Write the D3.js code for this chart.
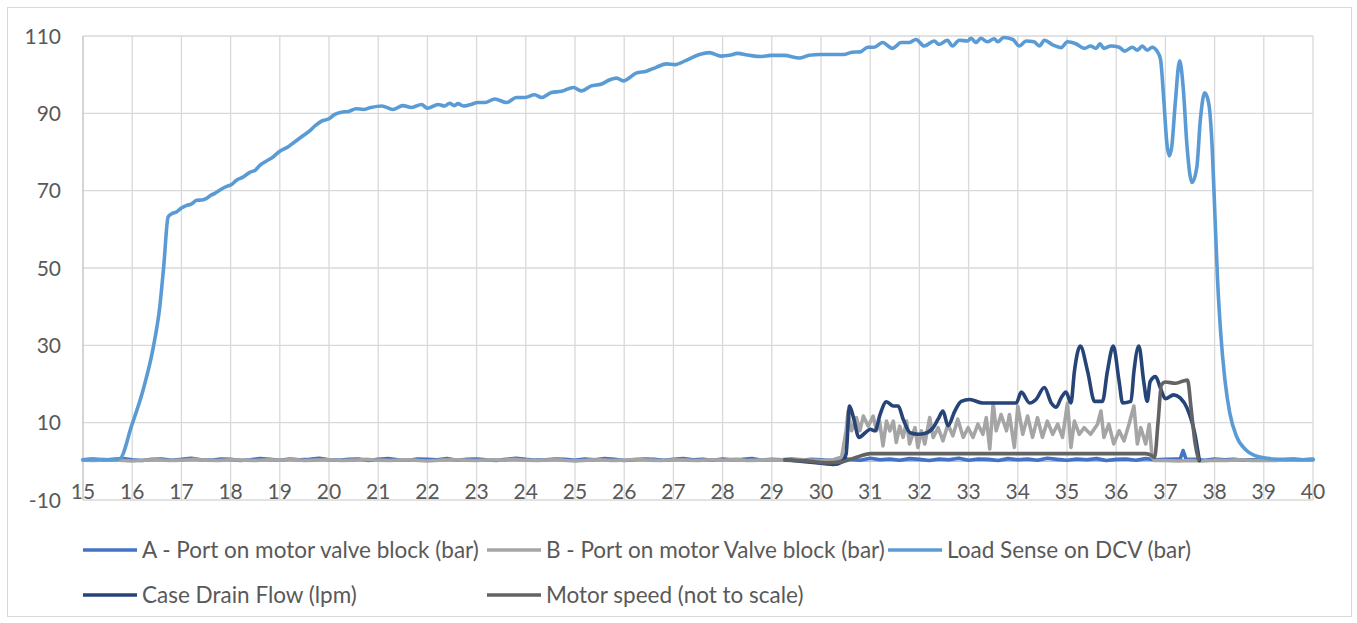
<!DOCTYPE html>
<html>
<head>
<meta charset="utf-8">
<script src="https://cdn.jsdelivr.net/npm/d3@7"></script>
<style>
  body { margin: 0; background: #fff; }
  svg text { font-family: Lato, "Open Sans", sans-serif; fill: #595959; }
</style>
</head>
<body>
<svg id="chart" width="1357" height="623"></svg>
<script>
// axis ticks
const xTicks = [15,16,17,18,19,20,21,22,23,24,25,26,27,28,29,30,31,32,33,34,35,36,37,38,39,40]
const yTicks = [-10,10,30,50,70,90,110]

// series, [time, value]
const aPort = [[15,0.4],[15.2,0.6],[15.4,0.3],[15.6,0.5],[15.8,0.7],[16,0.4],[16.2,0.2],[16.4,0.5],[16.6,0.6],[16.8,0.3],
  [17,0.5],[17.2,0.8],[17.4,0.4],[17.6,0.3],[17.8,0.6],[18,0.5],[18.2,0.2],[18.4,0.4],[18.6,0.7],[18.8,0.5],
  [19,0.3],[19.2,0.6],[19.4,0.4],[19.6,0.5],[19.8,0.8],[20,0.4],[20.2,0.3],[20.4,0.5],[20.6,0.6],[20.8,0.2],
  [21,0.5],[21.2,0.7],[21.4,0.4],[21.6,0.3],[21.8,0.6],[22,0.5],[22.2,0.4],[22.4,0.7],[22.6,0.3],[22.8,0.5],
  [23,0.6],[23.2,0.4],[23.4,0.2],[23.6,0.5],[23.8,0.8],[24,0.5],[24.2,0.3],[24.4,0.4],[24.6,0.6],[24.8,0.5],
  [25,0.3],[25.2,0.6],[25.4,0.4],[25.6,0.7],[25.8,0.5],[26,0.2],[26.2,0.4],[26.4,0.6],[26.6,0.5],[26.8,0.3],
  [27,0.5],[27.2,0.7],[27.4,0.4],[27.6,0.5],[27.8,0.3],[28,0.6],[28.2,0.4],[28.4,0.5],[28.6,0.7],[28.8,0.3],
  [29,0.5],[29.2,0.4],[29.4,0.6],[29.6,0.3],[29.8,0.5],[30,0.4],[30.2,0.2],[30.4,0.7],[30.6,0.5],[30.8,0.3],
  [31,0.8],[31.2,0.4],[31.4,0.6],[31.6,0.3],[31.8,0.7],[32,0.5],[32.2,0.2],[32.4,0.6],[32.6,0.4],[32.8,0.8],
  [33,0.3],[33.2,0.6],[33.4,0.5],[33.6,0.2],[33.8,0.7],[34,0.4],[34.2,0.6],[34.4,0.3],[34.6,0.8],[34.8,0.5],
  [35,0.3],[35.2,0.6],[35.4,0.4],[35.6,0.7],[35.8,0.2],[36,0.5],[36.2,0.6],[36.4,0.3],[36.6,0.7],[36.8,0.4],
  [37,0.5],[37.2,0.6],[37.3,0.6],[37.36,2.8],[37.42,0.5],[37.6,0.5],[37.8,0.3],[38,0.6],[38.2,0.4],[38.4,0.5],[38.6,0.3],[38.8,0.4],
  [39,0.5],[39.2,0.3],[39.4,0.4],[39.6,0.6],[39.8,0.4],[40,0.5]]

const bPort = [[15,0.3],[15.25,0.2],[15.5,0.4],[15.75,0.3],[16,0.1],[16.25,0.3],[16.5,0.4],[16.75,0.2],[17,0.3],[17.25,0.5],
  [17.5,0.3],[17.75,0.2],[18,0.4],[18.25,0.3],[18.5,0.2],[18.75,0.4],[19,0.3],[19.25,0.5],[19.5,0.2],[19.75,0.3],
  [20,0.4],[20.25,0.2],[20.5,0.3],[20.75,0.5],[21,0.3],[21.25,0.2],[21.5,0.4],[21.75,0.3],[22,0.1],[22.25,0.3],
  [22.5,0.4],[22.75,0.3],[23,0.2],[23.25,0.4],[23.5,0.3],[23.75,0.5],[24,0.3],[24.25,0.2],[24.5,0.4],[24.75,0.3],
  [25,0.1],[25.25,0.3],[25.5,0.4],[25.75,0.2],[26,0.3],[26.25,0.5],[26.5,0.3],[26.75,0.2],[27,0.4],[27.25,0.3],
  [27.5,0.2],[27.75,0.4],[28,0.3],[28.25,0.5],[28.5,0.2],[28.75,0.3],[29,0.4],[29.25,0.3],[29.5,0.5],[29.75,0.3],
  [30,0.2],[30.25,0.4],
  [30.42,1.1],[30.51,7.9],[30.55,13],[30.62,7.9],[30.72,11.3],[30.79,7.9],[30.86,11.7],[30.96,9.1],[31.06,11.7],[31.13,7.9],
  [31.19,10.4],[31.26,4],[31.33,10.4],[31.4,7.9],[31.47,10.4],[31.53,4.9],[31.6,9.1],[31.67,6.2],[31.74,10.4],[31.8,4.5],
  [31.91,8.7],[31.97,3.6],[32.04,7.9],[32.11,4.5],[32.21,11.3],[32.28,6.2],[32.38,8.7],[32.48,5.3],[32.58,9.6],[32.68,6.6],
  [32.78,10.9],[32.89,6.2],[32.99,8.7],[33.09,6.2],[33.19,9.6],[33.29,7],[33.36,11.3],[33.43,3.2],[33.5,15.1],[33.56,7.9],
  [33.66,12.1],[33.77,7.9],[33.83,12.1],[33.93,3.6],[34,14.3],[34.1,7],[34.2,11.7],[34.3,6.2],[34.4,11.3],[34.5,6.2],
  [34.6,10.4],[34.71,7],[34.81,9.6],[34.91,6.2],[35.01,15.1],[35.08,3.6],[35.15,10.4],[35.25,7],[35.35,8.7],[35.48,7],
  [35.62,9.6],[35.69,13],[35.75,6.2],[35.85,9.6],[35.95,4.5],[36.06,7.9],[36.16,5.3],[36.26,9.6],[36.36,14.3],[36.43,4.5],
  [36.5,8.7],[36.6,4.5],[36.67,9.6],[36.73,1.1],[36.78,0.2],
  [37,0.2],[37.25,0.1],[37.5,0.2],[37.75,0.1],[38,0.3],[38.25,0.2],[38.5,0.4],[38.75,0.2],[39,0.3],[39.25,0.2],
  [39.5,0.4],[39.75,0.3],[40,0.3]]

const loadSense = [[15,0.4],[15.3,0.5],[15.6,0.4],[15.75,0.7],[15.99,9.3],[16.22,18.4],[16.43,29.6],[16.56,39.9],[16.64,50.3],[16.73,63.2],
  [16.8,64],[16.9,64.5],[17,65.5],[17.11,66.2],[17.2,66.5],[17.31,67.5],[17.42,67.6],[17.51,68],[17.6,68.8],[17.68,69.3],
  [17.8,70.3],[17.92,71.1],[18.02,71.6],[18.12,72.7],[18.25,73.5],[18.4,74.8],[18.5,75.3],[18.6,76.6],[18.72,77.6],[18.85,78.6],
  [19,80.2],[19.15,81.2],[19.3,82.6],[19.45,84],[19.6,85.4],[19.72,86.8],[19.85,88],[20,88.6],[20.1,89.6],[20.25,90.3],
  [20.4,90.5],[20.55,91.2],[20.7,91],[20.85,91.5],[21.07,91.9],[21.3,91],[21.5,92],[21.68,91.5],[21.88,92.3],[22,91.3],
  [22.22,92.3],[22.35,91.9],[22.45,92.6],[22.55,92],[22.62,92.5],[22.73,91.9],[22.86,92.2],[23.03,92.8],[23.17,92.8],[23.37,93.7],
  [23.61,92.8],[23.81,94.1],[23.98,94.1],[24.18,94.8],[24.32,94.1],[24.52,95.4],[24.73,95.7],[24.97,96.7],[25.13,95.8],[25.33,97.1],
  [25.54,97.6],[25.71,98.7],[25.85,99.1],[25.98,98.4],[26.24,100.4],[26.45,100.9],[26.65,101.9],[26.86,102.8],[27.03,102.6],[27.26,103.7],
  [27.53,105.2],[27.73,105.7],[27.97,104.8],[28.14,105],[28.3,105.5],[28.54,105],[28.78,104.7],[28.98,105],[29.25,105],[29.56,104.3],
  [29.76,105],[29.99,105.2],[30.46,105.2],[30.63,105.8],[30.8,105.9],[30.95,107.1],[31.08,107.1],[31.25,108.3],[31.45,106.8],[31.63,108.3],
  [31.79,108.3],[31.93,109.1],[32.1,107.4],[32.3,108.7],[32.4,107.8],[32.57,108.9],[32.67,107.4],[32.81,108.9],[32.98,108.7],[33.05,109.4],
  [33.15,108.3],[33.25,109.4],[33.38,108.5],[33.52,109.3],[33.59,108.5],[33.71,109.6],[33.9,109.1],[34.03,107.4],[34.17,108.7],[34.33,108.5],
  [34.44,107.4],[34.54,108.9],[34.71,107.7],[34.88,107],[35.01,108.5],[35.18,108],[35.35,106.8],[35.48,107.4],[35.59,106.8],[35.67,108],
  [35.75,106.8],[35.89,107.4],[36.06,107.1],[36.17,106.1],[36.33,107.1],[36.43,106.3],[36.53,107.4],[36.63,106.3],[36.73,107.1],[36.83,106.1],
  [36.9,104],[36.97,93],[37.03,82.2],[37.08,79],[37.13,81.4],[37.2,92.6],[37.29,103.6],[37.36,96.9],[37.44,81.4],[37.54,72.1],
  [37.64,76.2],[37.71,88.3],[37.8,95.3],[37.88,92.6],[37.95,81.4],[38.01,62.4],[38.06,47],[38.12,33.9],[38.21,21],[38.31,12.4],
  [38.45,6.3],[38.65,2.8],[38.92,1.1],[39.2,0.6],[39.5,0.5],[39.8,0.4],[40,0.5]]

const caseDrain = [[29.27,0.4],[29.78,-0.2],[30.25,-0.8],[30.42,-0.2],[30.51,1.9],[30.58,14.3],[30.66,11.3],[30.77,6.2],[30.9,7.4],[31,8.3],
  [31.1,7.9],[31.2,12.1],[31.33,15.4],[31.47,14.3],[31.57,14.3],[31.67,10.9],[31.81,7.4],[31.98,7],[32.11,7.2],[32.28,8.7],
  [32.38,10.9],[32.48,13],[32.58,9.2],[32.72,13],[32.85,15.5],[33.02,16],[33.29,15.1],[33.7,15.1],[33.97,15.1],[34.07,17.9],
  [34.24,15.1],[34.37,16],[34.54,19.1],[34.68,15.1],[34.78,14],[34.88,16.4],[34.98,17.9],[35.08,15.1],[35.15,23.2],[35.27,29.8],
  [35.42,23.2],[35.56,15.5],[35.72,15.5],[35.82,23.2],[35.94,29.8],[36.06,20.6],[36.13,15.1],[36.3,15.5],[36.36,23.2],[36.46,29.8],
  [36.56,20.6],[36.63,15.5],[36.69,20.6],[36.8,21.9],[36.9,18.9],[37,16.2],[37.17,17.2],[37.3,16.4],[37.44,13.8],[37.6,7],[37.69,0.2]]

const motorSpeed = [[29.27,0.3],[29.8,0],[30.1,-0.4],[30.4,-0.2],[30.6,0.5],[30.8,1.4],[31,2],[32,2],[33,2],[34,2],
  [35,2],[36,2],[36.6,2],[36.72,1.5],[36.78,1],[36.85,10],[36.92,19.8],[37,20.5],[37.2,20.2],[37.35,20.7],
  [37.45,21],[37.52,14],[37.6,5],[37.67,0.5]]

const seriesNames = ['A - Port on motor valve block (bar)', 'B - Port on motor Valve block (bar)', 'Load Sense on DCV (bar)',
  'Case Drain Flow (lpm)', 'Motor speed (not to scale)']
const seriesColors = ['#4472C4', '#A5A5A5', '#5B9BD5', '#264478', '#636363']

const series = [
  {name: seriesNames[0], data: aPort, color: seriesColors[0], curve: d3.curveLinear},
  {name: seriesNames[1], data: bPort, color: seriesColors[1], curve: d3.curveLinear},
  {name: seriesNames[2], data: loadSense, color: seriesColors[2], curve: d3.curveMonotoneX},
  {name: seriesNames[3], data: caseDrain, color: seriesColors[3], curve: d3.curveMonotoneX},
  {name: seriesNames[4], data: motorSpeed, color: seriesColors[4], curve: d3.curveMonotoneX}
]

let svg = d3.select('#chart')

// outer frame
svg.append('rect')
  .attr('x', 7.5).attr('y', 7.5)
  .attr('width', 1344).attr('height', 609)
  .attr('fill', 'none')
  .attr('stroke', '#d9d9d9')

let x = d3.scaleLinear().domain([15, 40]).range([83, 1313])
let y = d3.scaleLinear().domain([-10, 110]).range([500, 36])

// gridlines
let grid = svg.append('g')
grid.selectAll('.hgrid')
  .data(yTicks)
  .join('line')
  .attr('x1', x(15)).attr('x2', x(40))
  .attr('y1', d => y(d)).attr('y2', d => y(d))
  .attr('stroke', '#d9d9d9').attr('stroke-width', 1.3)

grid.selectAll('.vgrid')
  .data(xTicks)
  .join('line')
  .attr('x1', d => x(d)).attr('x2', d => x(d))
  .attr('y1', y(110)).attr('y2', y(-10))
  .attr('stroke', d => d === 15 ? '#bfbfbf' : '#d9d9d9').attr('stroke-width', 1.3)

// horizontal axis sits at zero
svg.append('line')
  .attr('x1', x(15)).attr('x2', x(40))
  .attr('y1', y(0)).attr('y2', y(0))
  .attr('stroke', '#bfbfbf').attr('stroke-width', 1.3)

// tick labels
svg.selectAll('.ylab')
  .data(yTicks)
  .join('text')
  .attr('x', 61)
  .attr('y', d => y(d))
  .attr('dy', '0.36em')
  .attr('text-anchor', 'end')
  .style('font-size', '21px')
  .text(d => d)

svg.selectAll('.xlab')
  .data(xTicks)
  .join('text')
  .attr('x', d => x(d))
  .attr('y', 499)
  .attr('text-anchor', 'middle')
  .style('font-size', '21px')
  .text(d => d)

// the lines, drawn in series order like the source
let plot = svg.append('g')
for (let s of series) {
  let line = d3.line()
    .x(d => x(d[0]))
    .y(d => y(d[1]))
    .curve(s.curve)
  plot.append('path')
    .datum(s.data)
    .attr('d', line)
    .attr('fill', 'none')
    .attr('stroke', s.color)
    .attr('stroke-width', 3.6)
    .attr('stroke-linejoin', 'round')
    .attr('stroke-linecap', 'round')
}

// legend, two rows
const legendPos = [[83, 550], [487, 550], [888, 550], [83, 595], [487, 595]]
let legend = svg.append('g')
series.forEach((s, i) => {
  let [lx, ly] = legendPos[i]
  legend.append('line')
    .attr('x1', lx).attr('x2', lx + 54)
    .attr('y1', ly).attr('y2', ly)
    .attr('stroke', s.color)
    .attr('stroke-width', 3.6)
  legend.append('text')
    .attr('x', lx + 59)
    .attr('y', ly)
    .attr('dy', '0.35em')
    .style('font-size', '22.5px')
    .text(s.name)
})
</script>
</body>
</html>
